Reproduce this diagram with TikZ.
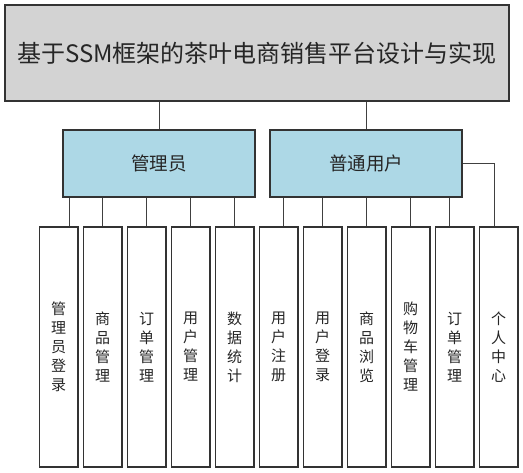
\documentclass[tikz,border=0pt]{standalone}
\usepackage{fontspec}
\setmainfont{Noto Sans CJK SC}
\definecolor{titlegray}{RGB}{211,211,211}
\definecolor{roleblue}{RGB}{173,216,230}
\begin{document}
\begin{tikzpicture}[
    x=1bp, y=-1bp,
    every node/.style={text=black!85, inner sep=0pt},
    conn/.style={draw=black!75, line width=1bp},
    titlenode/.style={rectangle, draw=black!80, line width=1.5bp, fill=titlegray, minimum width=504bp, minimum height=96bp, font=\fontsize{24bp}{29bp}\selectfont},
    rolenode/.style={rectangle, draw=black!80, line width=1.5bp, fill=roleblue, minimum width=192bp, minimum height=67bp, font=\fontsize{18.5bp}{22bp}\selectfont},
    leafnode/.style={rectangle, draw=black!80, line width=1.5bp, fill=white, minimum width=38.7bp, minimum height=240bp, align=center, font=\fontsize{15bp}{19bp}\selectfont}
]
    \useasboundingbox (0,0) rectangle (523,473);
    \node[titlenode] (title) at (257,53) {基于SSM框架的茶叶电商销售平台设计与实现};
    \node[rolenode] (admin) at (159,163.5) {管理员};
    \node[rolenode] (user) at (366,163.5) {普通用户};
    \foreach \name/\txt [count=\i from 0] in {
        a1/{管\\理\\员\\登\\录}, a2/{商\\品\\管\\理}, a3/{订\\单\\管\\理},
        a4/{用\\户\\管\\理}, a5/{数\\据\\统\\计},
        u1/{用\\户\\注\\册}, u2/{用\\户\\登\\录}, u3/{商\\品\\浏\\览},
        u4/{购\\物\\车\\管\\理}, u5/{订\\单\\管\\理}, u6/{个\\人\\中\\心}}
        \node[leafnode] (\name) at (58.7+44*\i,347) {\txt};
    % top level
    \draw[conn] (title.south -| admin) -- (admin.north);
    \draw[conn] (title.south -| user) -- (user.north);
    % admin branch
    \draw[conn] ([xshift=7bp]admin.south west) -- ([xshift=7bp]admin.south west |- a1.north);
    \foreach \leaf in {a2,a3,a4,a5}
        \draw[conn] (admin.south -| \leaf) -- (\leaf.north);
    % user branch
    \draw[conn] ([xshift=14bp]user.south west) -- ([xshift=14bp]user.south west |- u1.north);
    \foreach \leaf in {u2,u3,u4}
        \draw[conn] (user.south -| \leaf) -- (\leaf.north);
    \draw[conn] ([xshift=-13bp]user.south east) -- ([xshift=-13bp]user.south east |- u5.north);
    \draw[conn] (user.east) -- ([xshift=-4bp]u6.north |- user.east) -- ([xshift=-4bp]u6.north);
\end{tikzpicture}
\end{document}
